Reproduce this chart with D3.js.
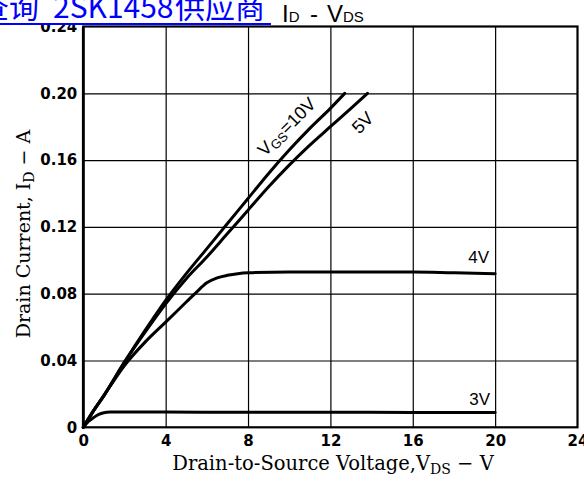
<!DOCTYPE html>
<html>
<head>
<meta charset="utf-8">
<script src="https://cdn.jsdelivr.net/npm/d3@7"></script>
<style>
body { margin: 0; background: #fff; }
svg { display: block; }
</style>
</head>
<body>
<div id="chart"></div>
<script>
/* curves: V_DS (V) and I_D (A) */
const vds_10v = [0, 0.5, 1, 2, 3, 4, 5, 6, 7, 8, 9, 10, 11, 12, 12.7];
const id_10v = [0, 0.010, 0.019, 0.039, 0.058, 0.076, 0.092, 0.107, 0.122, 0.137, 0.152, 0.166, 0.179, 0.191, 0.200];
const vds_5v = [0, 0.5, 1, 2, 3, 4, 5, 6, 7, 8, 9, 10, 11, 12, 13, 13.8];
const id_5v = [0, 0.010, 0.019, 0.039, 0.057, 0.074, 0.089, 0.102, 0.116, 0.130, 0.144, 0.157, 0.169, 0.180, 0.191, 0.200];
const vds_4v = [0, 0.5, 1, 2, 3, 4, 5, 5.5, 6, 6.5, 7, 7.5, 8, 10, 12, 14, 16, 18, 20];
const id_4v = [0, 0.010, 0.019, 0.037, 0.051, 0.063, 0.075, 0.081, 0.0865, 0.0895, 0.091, 0.092, 0.0925, 0.093, 0.093, 0.093, 0.093, 0.0925, 0.092];
const vds_3v = [0, 0.25, 0.5, 0.75, 1, 1.3, 2, 4, 8, 12, 16, 20];
const id_3v = [0, 0.0035, 0.0058, 0.0077, 0.0087, 0.0091, 0.0092, 0.0091, 0.009, 0.009, 0.0089, 0.0088];

const x_ticks = [0, 4, 8, 12, 16, 20, 24];
const y_ticks = [0, 0.04, 0.08, 0.12, 0.16, 0.20, 0.24];

const width = 584, height = 481;
const plot = { left: 83.3, right: 577.5, top: 26.5, bottom: 427.3 };

const svg = d3.select("#chart")
    .append("svg")
    .attr("width", width)
    .attr("height", height);

const x = d3.scaleLinear().domain([0, 24]).range([plot.left, plot.right]);
const y = d3.scaleLinear().domain([0, 0.24]).range([plot.bottom, plot.top]);

/* grid lines */
svg.append("g")
    .attr("transform", `translate(0, ${plot.bottom})`)
    .call(d3.axisBottom(x).tickValues(x_ticks.slice(1, -1)).tickSize(-(plot.bottom - plot.top)).tickFormat(""))
    .call(g => g.select(".domain").remove())
    .selectAll("line").attr("stroke", "#000").attr("stroke-width", 1.2);

svg.append("g")
    .attr("transform", `translate(${plot.left}, 0)`)
    .call(d3.axisLeft(y).tickValues(y_ticks.slice(1, -1)).tickSize(-(plot.right - plot.left)).tickFormat(""))
    .call(g => g.select(".domain").remove())
    .selectAll("line").attr("stroke", "#000").attr("stroke-width", 1.2);

/* frame */
svg.append("rect")
    .attr("x", plot.left)
    .attr("y", plot.top)
    .attr("width", plot.right - plot.left)
    .attr("height", plot.bottom - plot.top)
    .attr("fill", "none")
    .attr("stroke", "#000")
    .attr("stroke-width", 2.2);
svg.append("line")
    .attr("x1", plot.left).attr("x2", plot.left)
    .attr("y1", plot.top).attr("y2", plot.bottom)
    .attr("stroke", "#000").attr("stroke-width", 2.8);

/* tick labels */
const tickFont = g => g.selectAll("text")
    .attr("fill", "#000")
    .style("font-family", "'DejaVu Sans', sans-serif")
    .style("font-weight", "bold")
    .style("font-size", "15px");

svg.append("g")
    .attr("transform", `translate(0, ${plot.bottom})`)
    .call(d3.axisBottom(x).tickValues(x_ticks).tickSize(0).tickPadding(8).tickFormat(d3.format("d")))
    .call(g => g.select(".domain").remove())
    .call(tickFont);

svg.append("g")
    .attr("transform", `translate(${plot.left}, 0)`)
    .call(d3.axisLeft(y).tickValues(y_ticks).tickSize(0).tickPadding(6)
        .tickFormat(d => d === 0 ? "0" : d3.format(".2f")(d)))
    .call(g => g.select(".domain").remove())
    .call(tickFont);

/* curves */
const line = d3.line()
    .x(d => x(d[0]))
    .y(d => y(d[1]))
    .curve(d3.curveMonotoneX);

const series = [
    [vds_10v, id_10v],
    [vds_5v, id_5v],
    [vds_4v, id_4v],
    [vds_3v, id_3v]
];

svg.append("g")
    .selectAll("path")
    .data(series.map(s => s[0].map((v, i) => [v, s[1][i]])))
    .join("path")
    .attr("d", line)
    .attr("fill", "none")
    .attr("stroke", "#000")
    .attr("stroke-width", 3)
    .attr("stroke-linejoin", "round")
    .attr("stroke-linecap", "round");

/* curve labels */
const labelFont = "'Liberation Sans', Arial, sans-serif";

const l10 = svg.append("text")
    .attr("transform", "translate(291, 131) rotate(-45)")
    .attr("text-anchor", "middle")
    .style("font-family", labelFont)
    .style("font-size", "18px");
l10.append("tspan").text("V");
l10.append("tspan").attr("dy", 3).style("font-size", "13px").text("GS");
l10.append("tspan").attr("dy", -3).text("=10V");

svg.append("text")
    .attr("transform", "translate(367, 127) rotate(-45)")
    .attr("text-anchor", "middle")
    .style("font-family", labelFont)
    .style("font-size", "18px")
    .text("5V");

svg.append("text")
    .attr("x", 489).attr("y", 263)
    .attr("text-anchor", "end")
    .style("font-family", labelFont)
    .style("font-size", "17px")
    .text("4V");

svg.append("text")
    .attr("x", 490).attr("y", 405)
    .attr("text-anchor", "end")
    .style("font-family", labelFont)
    .style("font-size", "17px")
    .text("3V");

/* axis titles */
const serif = "'DejaVu Serif', serif";

const xt = svg.append("text")
    .attr("x", 333).attr("y", 470)
    .attr("text-anchor", "middle")
    .style("font-family", serif)
    .style("font-size", "19.5px");
xt.append("tspan").text("Drain-to-Source Voltage,V");
xt.append("tspan").attr("dy", 4).style("font-size", "14px").text("DS");
xt.append("tspan").attr("dy", -4).text(" \u2212 V");

const yt = svg.append("text")
    .attr("transform", "translate(30, 234) rotate(-90)")
    .attr("text-anchor", "middle")
    .style("font-family", serif)
    .style("font-size", "19px");
yt.append("tspan").text("Drain Current, I");
yt.append("tspan").attr("dy", 4).style("font-size", "14px").text("D");
yt.append("tspan").attr("dy", -4).text(" \u2212 A");

/* link banner at the top */
svg.append("rect")
    .attr("x", 0).attr("y", 0)
    .attr("width", 272).attr("height", 24)
    .attr("fill", "#fff");

const link = svg.append("text")
    .attr("y", 18)
    .attr("fill", "#0000ff")
    .style("font-family", "'Noto Sans CJK SC', sans-serif")
    .style("font-size", "30px");
link.append("tspan").attr("x", -21).text("查询");
link.append("tspan").attr("x", 53).text("2SK1458");
link.append("tspan").attr("x", 175).text("供应商");

svg.append("line")
    .attr("x1", 0).attr("x2", 271)
    .attr("y1", 24).attr("y2", 24)
    .attr("stroke", "#0000ff")
    .attr("stroke-width", 2);

/* title */
const title = svg.append("text")
    .attr("y", 22)
    .attr("fill", "#000")
    .style("font-family", labelFont)
    .style("font-size", "24px");
title.append("tspan").attr("x", 282).text("I");
title.append("tspan").style("font-size", "15px").text("D");
title.append("tspan").attr("x", 310).text("-");
title.append("tspan").attr("x", 327).text("V");
title.append("tspan").style("font-size", "15px").text("DS");
</script>
</body>
</html>
